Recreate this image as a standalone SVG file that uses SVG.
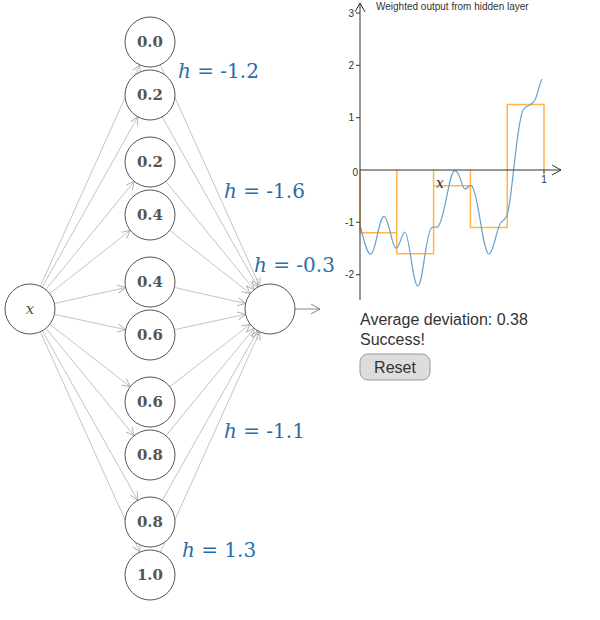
<svg xmlns="http://www.w3.org/2000/svg" width="600" height="620" viewBox="0 0 600 620">
<style>
.n{fill:#fff;stroke:#555;stroke-width:1}
.nt{font-family:"DejaVu Serif",serif;font-size:15px;font-weight:bold;fill:#555;text-anchor:middle}
.c line{stroke:#c4c4c4;stroke-width:1;marker-end:url(#a)}
.h{font-family:"DejaVu Serif",serif;font-size:20px;fill:#2a6ca8}
.ax{stroke:#333;stroke-width:1;fill:none}
.tk{font-family:"Liberation Sans",sans-serif;font-size:10px;fill:#333}
.st{fill:none;stroke:#ffb54a;stroke-width:1.5}
.bt{font-family:"Liberation Sans",sans-serif;font-size:16px;fill:#333}
</style>
<defs>
<marker id="a" markerWidth="10" markerHeight="10" refX="9" refY="5" orient="auto" markerUnits="userSpaceOnUse"><path d="M1,1 L9,5 L1,9" fill="none" stroke="#b5b5b5" stroke-width="1"/></marker>
<marker id="b" markerWidth="12" markerHeight="12" refX="10" refY="6" orient="auto" markerUnits="userSpaceOnUse"><path d="M1,1 L10,6 L1,11" fill="none" stroke="#333" stroke-width="1"/></marker>
<marker id="o" markerWidth="12" markerHeight="12" refX="10" refY="6" orient="auto" markerUnits="userSpaceOnUse"><path d="M1,1 L10,6 L1,11" fill="none" stroke="#888" stroke-width="1"/></marker>
</defs>
<g id="connectors" class="c">
<line x1="40.3" y1="286.2" x2="139.8" y2="64.8"/>
<line x1="42.2" y1="287.2" x2="137.8" y2="116.8"/>
<line x1="45.8" y1="289.6" x2="134.2" y2="181.4"/>
<line x1="49.7" y1="293.6" x2="130.3" y2="230.4"/>
<line x1="54.4" y1="303.5" x2="125.6" y2="287.5"/>
<line x1="54.4" y1="314.3" x2="125.6" y2="329.7"/>
<line x1="49.8" y1="324.3" x2="130.2" y2="386.7"/>
<line x1="45.9" y1="328.3" x2="134.1" y2="435.7"/>
<line x1="42.3" y1="330.8" x2="137.7" y2="500.2"/>
<line x1="40.3" y1="331.8" x2="139.7" y2="552.2"/>
<line x1="160.3" y1="64.8" x2="259.8" y2="286.2"/>
<line x1="162.2" y1="116.8" x2="257.8" y2="287.2"/>
<line x1="165.8" y1="181.4" x2="254.2" y2="289.6"/>
<line x1="169.7" y1="230.4" x2="250.3" y2="293.6"/>
<line x1="174.4" y1="287.5" x2="245.6" y2="303.5"/>
<line x1="174.4" y1="329.7" x2="245.6" y2="314.3"/>
<line x1="169.8" y1="386.7" x2="250.2" y2="324.3"/>
<line x1="165.9" y1="435.7" x2="254.1" y2="328.3"/>
<line x1="162.3" y1="500.2" x2="257.7" y2="330.8"/>
<line x1="160.3" y1="552.2" x2="259.7" y2="331.8"/>
<line x1="295" y1="309" x2="320" y2="309" style="stroke:#888;marker-end:url(#o)"/>
</g>
<g id="in"><circle class="n" cx="30" cy="309" r="25"/><text x="30" y="314" style="font-family:'DejaVu Serif',serif;font-style:italic;font-size:15px;fill:#555;text-anchor:middle">x</text></g>
<g id="h1"><circle class="n" cx="150" cy="42" r="25"/><text class="nt" x="150" y="47">0.0</text></g>
<g id="h2"><circle class="n" cx="150" cy="95" r="25"/><text class="nt" x="150" y="100">0.2</text></g>
<g id="h3"><circle class="n" cx="150" cy="162" r="25"/><text class="nt" x="150" y="167">0.2</text></g>
<g id="h4"><circle class="n" cx="150" cy="215" r="25"/><text class="nt" x="150" y="220">0.4</text></g>
<g id="h5"><circle class="n" cx="150" cy="282" r="25"/><text class="nt" x="150" y="287">0.4</text></g>
<g id="h6"><circle class="n" cx="150" cy="335" r="25"/><text class="nt" x="150" y="340">0.6</text></g>
<g id="h7"><circle class="n" cx="150" cy="402" r="25"/><text class="nt" x="150" y="407">0.6</text></g>
<g id="h8"><circle class="n" cx="150" cy="455" r="25"/><text class="nt" x="150" y="460">0.8</text></g>
<g id="h9"><circle class="n" cx="150" cy="522" r="25"/><text class="nt" x="150" y="527">0.8</text></g>
<g id="h10"><circle class="n" cx="150" cy="575" r="25"/><text class="nt" x="150" y="580">1.0</text></g>
<g id="out"><circle class="n" cx="270" cy="309" r="25"/></g>
<g id="labels">
<text class="h" x="178" y="78"><tspan font-style="italic">h</tspan> = -1.2</text>
<text class="h" x="224" y="198"><tspan font-style="italic">h</tspan> = -1.6</text>
<text class="h" x="254" y="272"><tspan font-style="italic">h</tspan> = -0.3</text>
<text class="h" x="224" y="438"><tspan font-style="italic">h</tspan> = -1.1</text>
<text class="h" x="182" y="557"><tspan font-style="italic">h</tspan> = 1.3</text>
</g>
<g id="chart">
<path class="st" d="M360,170V232.8H396.8V170M396.8,170V253.7H433.6V170M433.6,170V185.7H470.4V170M470.4,170V227.5H507.2V170M507.2,170V104.6H544V170"/>
<path d="M360.7,227.7 C364,240 367,255 371,254 C376,252 379,216 384,216.7 C389,217 392,250 396.7,248 C400,246 402,232 405,232 C409,232 413,287 418,286 C423,285 426,230 431.7,227.7 C434,226 436,228 438,226.7 C445,220 449,170 455,170.7 C460,171 462,189 465,189 C468,189 469,184 471.7,185.7 C478,190 483,255 489,254 C494,253 497,224 501.7,221.7 C504,220 505,219 506.7,216 C512,205 516,125 523,110 C526,106 528,106 530,105 C533,103 534,102 535,100 C538,93 540,82 542,79" fill="none" stroke="#6a9fcb" stroke-width="1.2"/>
<line class="ax" x1="360" y1="300" x2="360" y2="3" marker-end="url(#b)"/>
<line class="ax" x1="360" y1="170" x2="561" y2="170" marker-end="url(#b)"/>
<g class="ax"><line x1="356" y1="13" x2="360" y2="13"/><line x1="356" y1="65.3" x2="360" y2="65.3"/><line x1="356" y1="117.7" x2="360" y2="117.7"/><line x1="356" y1="222.3" x2="360" y2="222.3"/><line x1="356" y1="274.7" x2="360" y2="274.7"/><line x1="544" y1="170" x2="544" y2="174"/></g>
<g class="tk" text-anchor="end"><text x="354" y="17">3</text><text x="354" y="69">2</text><text x="354" y="121">1</text><text x="358" y="176">0</text><text x="354" y="226">-1</text><text x="354" y="278">-2</text></g>
<text class="tk" x="544" y="183" text-anchor="middle">1</text>
<text x="440" y="188" style="font-family:'DejaVu Serif',serif;font-style:italic;font-size:14px;fill:#333;text-anchor:middle">x</text>
<text class="tk" x="376" y="10">Weighted output from hidden layer</text>
</g>
<g id="status">
<text class="bt" x="360" y="325">Average deviation: 0.38</text>
<text class="bt" x="360" y="345">Success!</text>
<rect x="360" y="354" width="70" height="26" rx="8" fill="#ddd" stroke="#999"/>
<text class="bt" x="395" y="373" text-anchor="middle">Reset</text>
</g>
</svg>
